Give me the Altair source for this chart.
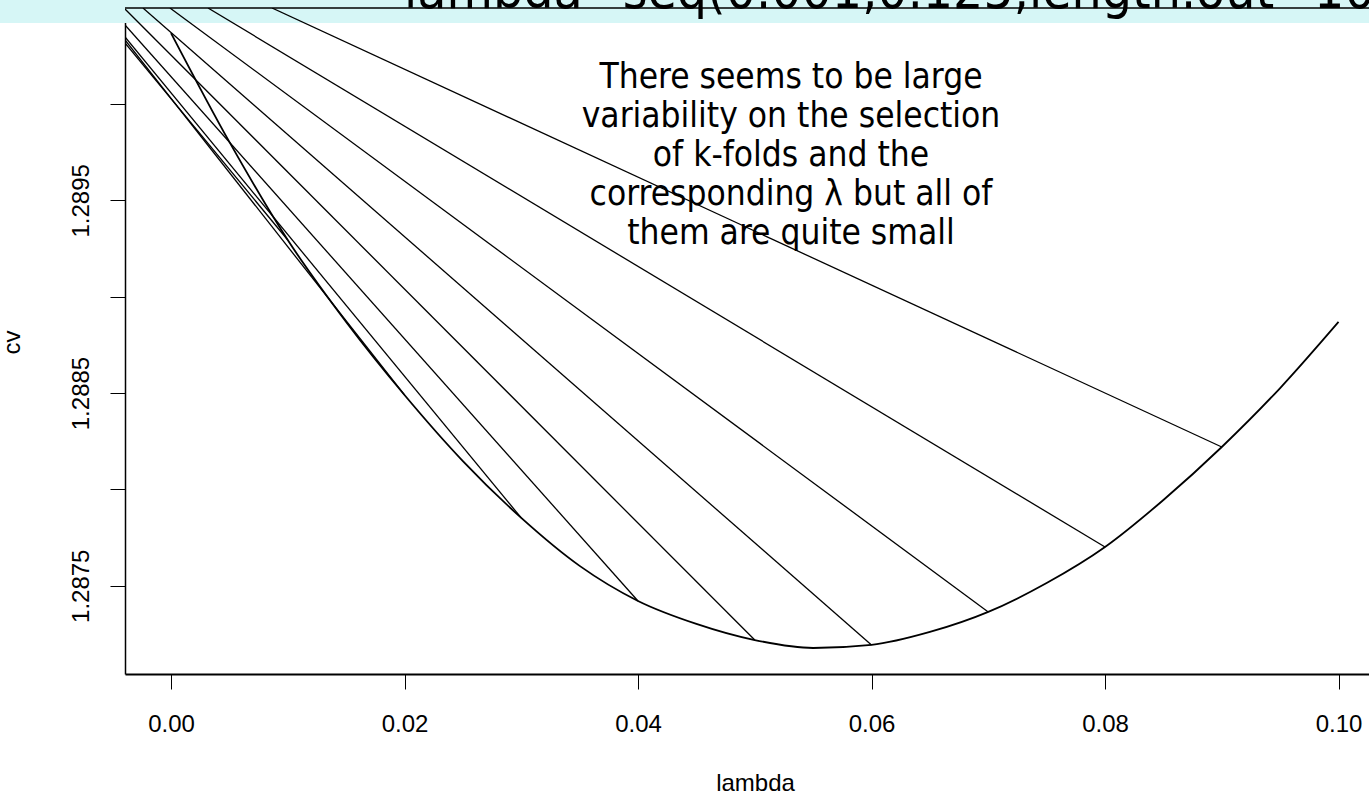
import altair as alt
import pandas as pd

# cross-validated error along the lambda grid
lam = [0.000, 0.005, 0.010, 0.015, 0.020, 0.025, 0.030, 0.035, 0.040, 0.045,
       0.050, 0.055, 0.060, 0.065, 0.070, 0.075, 0.080, 0.085, 0.090, 0.095, 0.100]
cv = [1.290368, 1.289803, 1.289294, 1.288869, 1.288490, 1.288147, 1.287852,
      1.287603, 1.287421, 1.287302, 1.287218, 1.287177, 1.287193, 1.287260,
      1.287364, 1.287514, 1.287701, 1.287945, 1.288220, 1.288526, 1.288869]

# straight fold paths: from the plot edge down to the curve at each lambda
fold_start_lam = [-0.00394, -0.00394, -0.00394, -0.00394, -0.00394,
                  -0.00240, -0.00009, 0.00317, 0.00865]
fold_start_cv = [1.290317, 1.290332, 1.290348, 1.290410, 1.290493,
                 1.290498, 1.290498, 1.290498, 1.290498]
fold_end_lam = [0.01, 0.02, 0.03, 0.04, 0.05, 0.06, 0.07, 0.08, 0.09]
fold_end_cv = [1.289294, 1.288490, 1.287852, 1.287421, 1.287218,
               1.287193, 1.287364, 1.287701, 1.288220]

x_ticks = [0.00, 0.02, 0.04, 0.06, 0.08, 0.10]
y_ticks = [1.2875, 1.2880, 1.2885, 1.2890, 1.2895, 1.2900]

title_text = "lambda=seq(0.001,0.125,length.out=100)"
note_lines = ["There seems to be large",
              "variability on the selection",
              "of k-folds and the",
              "corresponding \u03bb but all of",
              "them are quite small"]

W, H = 1244, 666
AX_FONT = "Liberation Sans"
SLIDE_FONT = "DejaVu Sans Condensed, DejaVu Sans"

curve_df = pd.DataFrame({"lambda": lam, "cv": cv})
fold_df = pd.DataFrame({"l0": fold_start_lam, "c0": fold_start_cv,
                        "l1": fold_end_lam, "c1": fold_end_cv})
one = pd.DataFrame({"k": [0]})

x_scale = alt.Scale(domain=[-0.00394, 0.10261], nice=False, zero=False)
y_scale = alt.Scale(domain=[1.287042, 1.290498], nice=False, zero=False)

x_axis = alt.Axis(values=x_ticks, format=".2f", title="lambda", grid=False,
                  tickSize=15, tickColor="black", tickWidth=1,
                  domainColor="black", domainWidth=2,
                  labelFont=AX_FONT, labelFontSize=24, labelColor="black",
                  labelPadding=42, labelBaseline="alphabetic",
                  titleFont=AX_FONT, titleFontSize=24, titleFontWeight="normal",
                  titleColor="black", titleX=630, titleY=116,
                  titleBaseline="alphabetic", titleAlign="center")

y_axis = alt.Axis(values=y_ticks, format=".4f", title="cv", grid=False,
                  labelExpr="indexof(['1.2875','1.2885','1.2895'], datum.label) >= 0 ? datum.label : ''",
                  labelOverlap=False,
                  tickSize=15, tickColor="black", tickWidth=1,
                  domainColor="black", domainWidth=1.5,
                  labelFont=AX_FONT, labelFontSize=24, labelColor="black",
                  labelAngle=270, labelAlign="center", labelBaseline="alphabetic",
                  labelPadding=22,
                  titleFont=AX_FONT, titleFontSize=24, titleFontWeight="normal",
                  titleColor="black", titleAngle=270, titleX=-106, titleY=334,
                  titleBaseline="alphabetic", titleAlign="center")

band = alt.Chart(one).mark_rect(color="#d6f6f6").encode(
    x=alt.value(-125), x2=alt.value(W), y=alt.value(-8), y2=alt.value(15))

heading = alt.Chart(one).mark_text(
    text=title_text, align="left", baseline="alphabetic",
    font=SLIDE_FONT, fontSize=53, color="black"
).encode(x=alt.value(279), y=alt.value(0))

curve = alt.Chart(curve_df).mark_line(
    color="black", strokeWidth=1.8, interpolate="monotone", clip=True
).encode(x=alt.X("lambda:Q", scale=x_scale, axis=x_axis),
         y=alt.Y("cv:Q", scale=y_scale, axis=y_axis))

folds = alt.Chart(fold_df).mark_rule(color="black", strokeWidth=1.3, clip=True).encode(
    x=alt.X("l0:Q", scale=x_scale), y=alt.Y("c0:Q", scale=y_scale),
    x2="l1:Q", y2="c1:Q")

top_edge = alt.Chart(one).mark_rule(color="black", strokeWidth=1.5).encode(
    x=alt.value(0), x2=alt.value(W), y=alt.value(0))

note = alt.Chart(one).mark_text(
    text=note_lines, align="center", baseline="alphabetic", lineHeight=39,
    font=SLIDE_FONT, fontSize=35, color="black"
).encode(x=alt.value(666), y=alt.value(80))

chart = alt.layer(band, heading, folds, curve, top_edge, note).properties(
    width=W, height=H,
    autosize=alt.AutoSizeParams(type="none"),
    padding={"left": 125, "top": 8, "right": 0, "bottom": 119},
    background="white",
).configure_view(stroke=None)

chart.save("out.html", embed_options={"renderer": "svg", "actions": False})
